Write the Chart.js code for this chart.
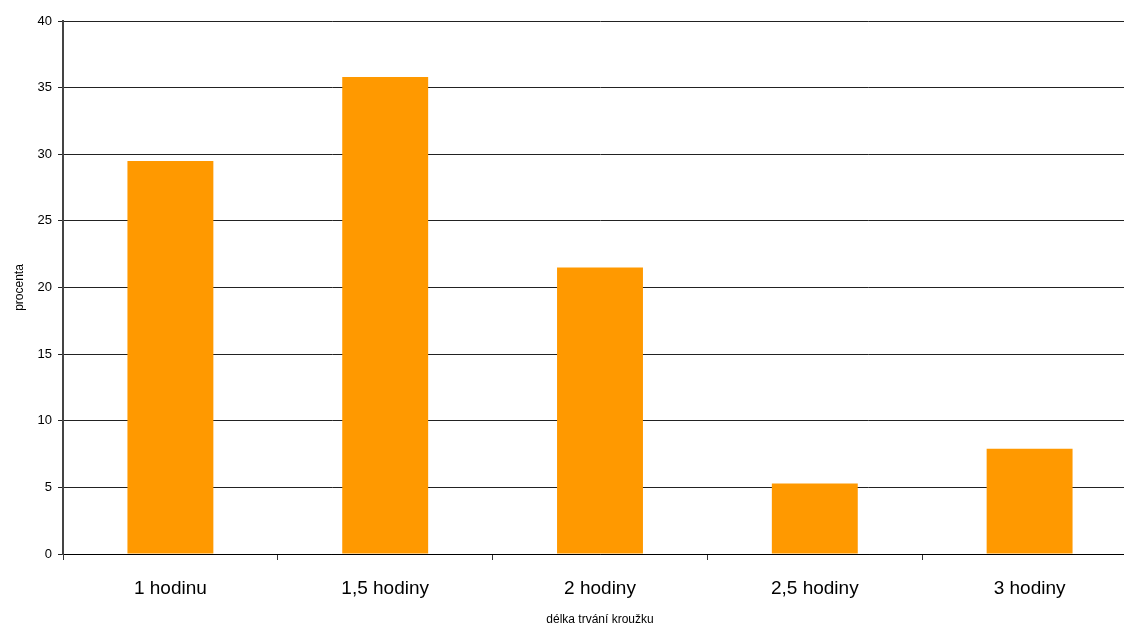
<!DOCTYPE html>
<html>
<head>
<meta charset="utf-8">
<script src="https://cdn.jsdelivr.net/npm/chart.js@4/dist/chart.umd.min.js"></script>
<style>
  html, body { margin: 0; padding: 0; background: #fff; overflow: hidden; }
  #wrap { width: 1137px; height: 628px; position: relative; }
</style>
</head>
<body>
<div id="wrap"><canvas id="durationChart"></canvas></div>
<script>
const categories = ['1 hodinu', '1,5 hodiny', '2 hodiny', '2,5 hodiny', '3 hodiny'];
const percentages = [29.5, 35.8, 21.5, 5.3, 7.9];
const yTicks = [0, 5, 10, 15, 20, 25, 30, 35, 40];

const ctx = document.getElementById('durationChart');

new Chart(ctx, {
    type: 'bar',
    data: {
        labels: categories,
        datasets: [{
            label: 'procenta',
            data: percentages,
            backgroundColor: '#FF9900',
            borderWidth: 0,
            barPercentage: 0.4,
            categoryPercentage: 1
        }]
    },
    options: {
        responsive: true,
        maintainAspectRatio: false,
        animation: false,
        layout: { padding: { top: 21, right: 0, left: 0, bottom: 0 } },
        plugins: {
            legend: { display: false },
            tooltip: { enabled: false }
        },
        scales: {
            x: {
                grid: {
                    offset: true,
                    drawOnChartArea: false,
                    drawTicks: true,
                    tickLength: 6,
                    color: '#333'
                },
                border: { color: '#000', width: 1 },
                ticks: {
                    color: '#000',
                    padding: 17,
                    maxRotation: 0,
                    font: { family: 'Liberation Sans, Arial, sans-serif', size: 19 }
                },
                title: {
                    display: true,
                    text: 'délka trvání kroužku',
                    color: '#000',
                    padding: { top: 0, bottom: 1 },
                    font: { family: 'Liberation Sans, Arial, sans-serif', size: 12 }
                },
                afterFit: function (scale) { scale.height = 74; }
            },
            y: {
                min: 0,
                max: 40,
                afterBuildTicks: function (scale) {
                    scale.ticks = yTicks.map(v => ({ value: v }));
                },
                grid: {
                    color: '#222',
                    lineWidth: 1,
                    tickLength: 5
                },
                border: { color: '#444', width: 2 },
                ticks: {
                    color: '#000',
                    padding: 6,
                    font: { family: 'Liberation Sans, Arial, sans-serif', size: 13 }
                },
                title: {
                    display: true,
                    text: 'procenta',
                    color: '#000',
                    padding: { top: 12, bottom: 0 },
                    font: { family: 'Liberation Sans, Arial, sans-serif', size: 12 }
                },
                afterFit: function (scale) { scale.width = 63; }
            }
        }
    }
});
</script>
</body>
</html>
